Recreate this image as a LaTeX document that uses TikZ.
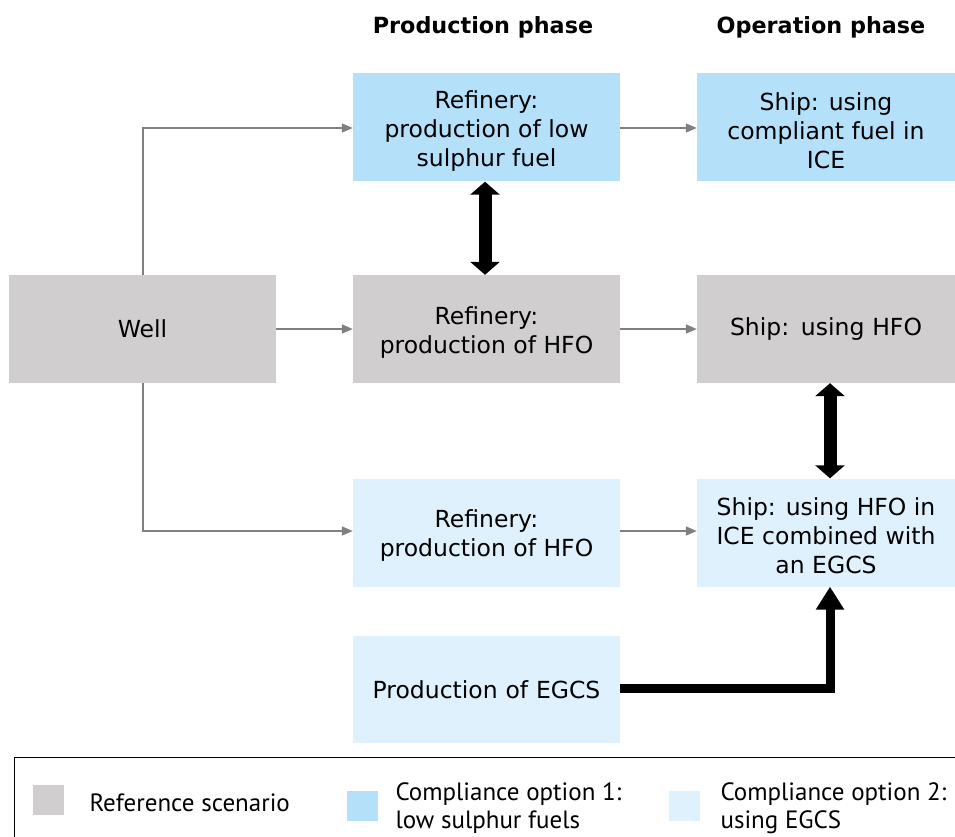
\documentclass[tikz,border=0pt]{standalone}
\usepackage{fontspec}
\setmainfont{DejaVu Sans}
\newfontfamily\legfont{PT Sans}
\usetikzlibrary{arrows.meta}
\definecolor{refgray}{HTML}{D0CECF}
\definecolor{optone}{HTML}{B4E0FA}
\definecolor{opttwo}{HTML}{DFF1FC}
\definecolor{linegray}{HTML}{808080}
\tikzset{
  box/.style={minimum width=267pt, minimum height=108pt, inner sep=0pt, align=center, text width=260pt, font=\fontsize{23.5}{29}\selectfont},
  btext/.style={inner sep=0pt, align=center, font=\fontsize{23.5}{29}\selectfont, yshift=-3.5pt},
  flow/.style={draw=linegray, line width=1.6pt, -{Triangle[length=11pt,width=9pt]}},
  bigarrow/.style={draw=black, line width=9pt, -{Triangle[length=23pt,width=27pt]}},
  bigdouble/.style={draw=black, line width=13pt, {Triangle[length=13pt,width=29pt]}-{Triangle[length=13pt,width=29pt]}},
  head/.style={font=\bfseries\fontsize{22.3}{26}\selectfont},
  leg/.style={font=\legfont\fontsize{25}{28}\selectfont, align=left, anchor=west},
  sq/.style={minimum width=31pt, minimum height=30pt, inner sep=0pt}
}
\begin{document}
\begin{tikzpicture}[x=1pt,y=-1pt]
\useasboundingbox (0,0) rectangle (955,837);
\node[head] (hp) at (483,27) {Production phase};
\node[head] (ho) at (821,27) {Operation phase};
% boxes
\node[box, fill=optone, label={[btext]center:{Refinery:\\production of low\\sulphur fuel}}] (rls) at (486.5,127.5) {};
\node[box, fill=optone, minimum width=258pt, text width=250pt, label={[btext]center:{Ship: using\\compliant fuel in\\ICE}}] (scf) at (826,127.5) {};
\node[box, fill=refgray] (well) at (142.5,329) {Well};
\node[box, fill=refgray, label={[btext]center:{Refinery:\\production of HFO}}] (rhfo) at (486.5,329) {};
\node[box, fill=refgray, minimum width=258pt, text width=250pt] (shfo) at (826,329) {Ship: using HFO};
\node[box, fill=opttwo, label={[btext]center:{Refinery:\\production of HFO}}] (rhfo2) at (486.5,532.5) {};
\node[box, fill=opttwo, minimum width=258pt, text width=250pt, label={[btext]center:{Ship: using HFO in\\ICE combined with\\an EGCS}}] (segcs) at (826,532.5) {};
\node[box, fill=opttwo, minimum height=107pt] (pegcs) at (486.5,689.5) {Production of EGCS};
% grey flows
\coordinate (wt) at (143,128);
\coordinate (wb) at (143,531);
\draw[flow] (well.north -| wt) -- (wt) -- (rls.west |- wt);
\draw[flow] (well.east) -- (rhfo.west);
\draw[flow] (well.south -| wb) -- (wb) -- (rhfo2.west |- wb);
\draw[flow] (rls.east |- wt) -- (scf.west |- wt);
\draw[flow] (rhfo.east) -- (shfo.west);
\draw[flow] (rhfo2.east |- wb) -- (segcs.west |- wb);
% black arrows
\draw[bigdouble] ([xshift=-1.5pt]rls.south) -- ([xshift=-1.5pt]rhfo.north);
\draw[bigdouble] ([xshift=4pt]shfo.south) -- ([xshift=4pt]segcs.north);
\coordinate (corner) at (830,688);
\draw[bigarrow] (pegcs.east |- corner) -- (corner) -- ([xshift=4pt]segcs.south);
% legend
\node[draw=black, line width=0.8pt, minimum width=960pt, minimum height=90pt, anchor=north west, inner sep=0pt] (legbox) at (14,757) {};
\node[sq, fill=refgray] (s1) at (48.5,800) {};
\node[leg] (l1) at (86,803) {Reference scenario};
\node[sq, fill=optone] (s2) at (362.5,806) {};
\node[leg] (l2) at (392,808) {Compliance option 1:\\low sulphur fuels};
\node[sq, fill=opttwo] (s3) at (684,806) {};
\node[leg] (l3) at (717,808) {Compliance option 2:\\using EGCS};
\end{tikzpicture}
\end{document}
